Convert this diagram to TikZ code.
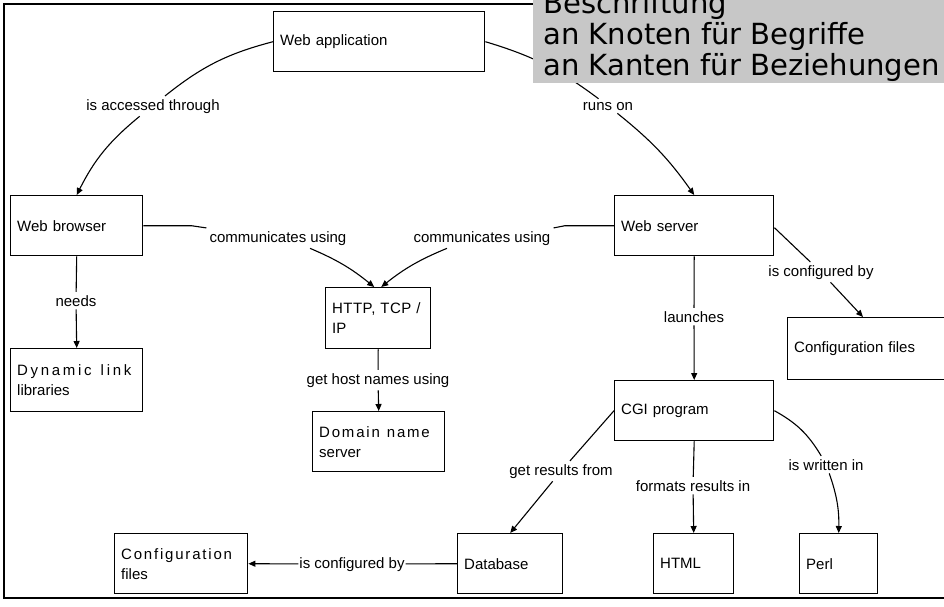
\documentclass[tikz,border=0pt]{standalone}
\usepackage{fontspec}
\usetikzlibrary{arrows.meta}
\newfontfamily\diagfamily{Liberation Sans}
\newfontfamily\legendfamily{DejaVu Sans}
\newcommand{\diagfont}{\diagfamily\fontsize{15}{20}\selectfont}
\newcommand{\legendfont}{\legendfamily\fontsize{29.1}{30.7}\selectfont}
\newcommand{\spaced}[2]{{\addfontfeature{LetterSpace=#1}#2}}
\definecolor{legendgray}{RGB}{199,199,199}

\begin{document}
\begin{tikzpicture}[x=1pt,y=1pt]
\tikzset{
  box/.style={draw, line width=1.4pt, inner xsep=6.5pt, inner ysep=0pt,
    minimum height=60pt, align=left, anchor=north west, font=\diagfont},
  rel/.style={font=\diagfont, inner sep=3pt, anchor=base},
  conn/.style={line width=1.1pt},
  arr/.style={conn, -{Triangle[length=7pt,width=6pt]}},
}
\useasboundingbox (0,0) rectangle (944,-606);
\clip (0,0) rectangle (944,-606);

% outer frame
\draw[line width=1.3pt] (4,-4) rectangle (960,-598);

% concepts
\node[box, text width=198pt] (webapp) at (273,-11) {Web application};
\node[box, text width=119pt] (browser) at (10,-195) {Web browser};
\node[box, text width=119pt, minimum height=63pt] (dll) at (10,-348)
  {\spaced{18}{Dynamic\hspace{4pt} link}\\libraries};
\node[box, text width=92pt, minimum height=61pt] (http) at (325,-287)
  {\spaced{3}{HTTP, TCP /}\\IP};
\node[box, text width=119pt] (dns) at (312,-411)
  {\spaced{12}{Domain\hspace{2pt} name}\\server};
\node[box, text width=146pt] (server) at (614,-195) {Web server};
\node[box, text width=190pt, minimum height=62pt] (cfgR) at (787,-317) {Configuration files};
\node[box, text width=146pt] (cgi) at (614,-380) {CGI program};
\node[box, text width=120pt] (cfgL) at (114,-533)
  {\spaced{12}{Configuration}\\files};
\node[box, text width=92pt] (db) at (457,-533) {Database};
\node[box, text width=67pt] (html) at (653,-533) {HTML};
\node[box, text width=65pt] (perl) at (799,-533) {Perl};

% relation labels
\node[rel] (acc) at (153,-110) {is accessed through};
\node[rel] (runs) at (608,-110) {runs on};
\node[rel] (comm1) at (278,-242) {communicates using};
\node[rel] (comm2) at (482,-242) {communicates using};
\node[rel] (needs) at (76,-306) {needs};
\node[rel] (host) at (378,-384) {get host names using};
\node[rel] (launch) at (694,-322) {launches};
\node[rel] (confR) at (821,-276) {is configured by};
\node[rel] (getres) at (561,-475) {get results from};
\node[rel] (fmt) at (693,-491) {formats results in};
\node[rel] (written) at (826,-470) {is written in};
\node[rel, inner xsep=1pt] (confL) at (352,-568) {is configured by};

% relations
\draw[conn] (webapp.west) to[bend right=12] (acc);
\draw[arr] (acc) to[bend right=12] (browser.north);

\draw[conn] (webapp.east) to[bend left=10] (runs);
\draw[arr] (runs) to[bend left=8] (server.north);

\draw[conn] (browser.east) -- ++(48,0) -- (comm1.north west);
\draw[arr] ([xshift=32pt]comm1.south) to[bend left=8] ([xshift=-4pt]http.north);

\draw[conn] (server.west) -- ++(-49,0) -- (comm2.north east);
\draw[arr] ([xshift=-35pt]comm2.south) to[bend right=8] ([xshift=3pt]http.north);

\draw[conn] (browser.south) -- (needs);
\draw[arr] (needs) -- (dll.north);

\draw[conn] (http.south) -- (host);
\draw[arr] (host) -- (dns.north);

\draw[conn] (server.south) -- (launch);
\draw[arr] (launch) -- (cgi.north);

\draw[conn] ([yshift=-2pt]server.east) -- (confR);
\draw[arr] (confR) -- ([xshift=76pt]cfgR.north west);

\draw[conn] (cgi.west) -- (getres);
\draw[arr] (getres) -- (db.north);

\draw[conn] (cgi.south) -- (fmt);
\draw[arr] (fmt) -- (html.north);

\draw[conn] (cgi.east) to[bend left=15] (written);
\draw[arr] (written) to[bend left=10] (perl.north);

\draw[conn] (db.west) -- (confL);
\draw[arr] (confL) -- (cfgL.east);

% caption panel (the last line's baseline anchors the block)
\fill[legendgray] (533,5) rectangle (960,-83);
\node[anchor=base west, align=left, font=\legendfont, inner sep=0pt] (legend) at (543,-75)
  {Beschriftung\\an Knoten für Begriffe\\an Kanten für Beziehungen};
\end{tikzpicture}
\end{document}
